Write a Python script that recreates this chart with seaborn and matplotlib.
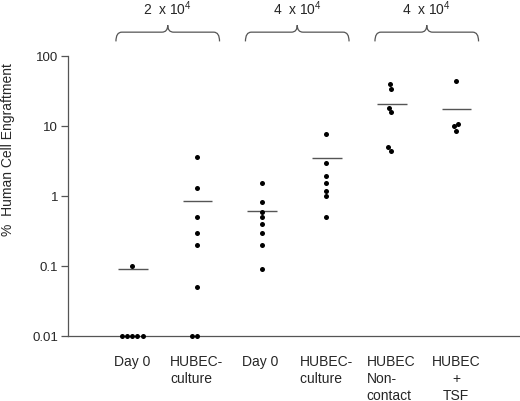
import numpy as np
import pandas as pd
import matplotlib
matplotlib.use("Agg")
import matplotlib.pyplot as plt
import matplotlib.transforms as mtransforms
from matplotlib.path import Path
from matplotlib.patches import PathPatch
import seaborn as sns

# data
groups = ["Day 0", "HUBEC-\nculture", "Day 0 ", "HUBEC-\nculture ",
          "HUBEC\nNon-\ncontact", "HUBEC\n+\nTSF"]
values = [
    [0.1, 0.01, 0.01, 0.01, 0.01, 0.01],
    [3.6, 1.3, 0.5, 0.3, 0.2, 0.05, 0.01, 0.01],
    [1.52, 0.81, 0.60, 0.50, 0.40, 0.30, 0.20, 0.09],
    [7.8, 3.0, 1.9, 1.52, 1.19, 1.0, 0.5],
    [40, 34, 18.2, 15.7, 4.96, 4.35],
    [43.5, 10.8, 9.9, 8.5],
]
means = [0.09, 0.86, 0.62, 3.5, 20.4, 17.5]
dose_labels = [r"2  x 10$^{4}$", r"4  x 10$^{4}$", r"4  x 10$^{4}$"]
yticks = [0.01, 0.1, 1, 10, 100]
ytick_labels = ["0.01", "0.1", "1", "10", "100"]

rows = [(g, v) for g, vals in zip(groups, values) for v in vals]
df = pd.DataFrame(rows, columns=["group", "value"])

sns.set_style("white")
plt.rcParams["font.family"] = ["Liberation Sans", "DejaVu Sans"]
plt.rcParams["mathtext.fontset"] = "custom"
plt.rcParams["mathtext.rm"] = "Liberation Sans"
plt.rcParams["mathtext.it"] = "Liberation Sans"

axis_col = "#555555"

fig = plt.figure(figsize=(5.2, 4.02), dpi=100)
ax = fig.add_axes([0.1308, 0.1617, 0.8692, 0.6966])
ax.set_yscale("log")

sns.swarmplot(data=df, x="group", y="value", order=groups, ax=ax,
              color="black", size=3.6, linewidth=0, clip_on=False)

# mean bars
for i, m in enumerate(means):
    ax.hlines(m, i - 0.22, i + 0.24, color=axis_col, lw=1)

ax.set_xlim(-0.99, 5.99)
ax.set_ylim(0.01, 100)
ax.set_yticks(yticks)
ax.set_yticklabels(ytick_labels)
ax.yaxis.set_minor_locator(matplotlib.ticker.NullLocator())
ax.tick_params(axis="y", length=5, width=0.9, color=axis_col, labelsize=9.5, pad=2,
               left=True)
ax.tick_params(axis="x", length=0, labelsize=10, pad=13)
for lbl in ax.get_xticklabels():
    lbl.set_multialignment("center" if "TSF" in lbl.get_text() else "left")
    lbl.set_linespacing(1.25)

ax.set_xlabel("")
ax.set_ylabel("%  Human Cell Engraftment", fontsize=10)
ax.yaxis.set_label_coords(-0.118, 0.67)

for s in ["top", "right"]:
    ax.spines[s].set_visible(False)
for s in ["left", "bottom"]:
    ax.spines[s].set_color(axis_col)
    ax.spines[s].set_linewidth(0.9)

# curly braces above the groups
trans = mtransforms.blended_transform_factory(ax.transData, ax.transAxes)
y_end, y_line, y_tip = 1.052, 1.085, 1.11
r = 0.09
for k, lab in enumerate(dose_labels):
    c = 2 * k + 0.55
    x0, x1 = c - 0.8, c + 0.8
    verts = [(x0, y_end), (x0, y_line), (x0 + r, y_line),
             (c - r, y_line),
             (c, y_line), (c, y_tip),
             (c, y_line), (c + r, y_line),
             (x1 - r, y_line),
             (x1, y_line), (x1, y_end)]
    codes = [Path.MOVETO, Path.CURVE3, Path.CURVE3,
             Path.LINETO,
             Path.CURVE3, Path.CURVE3,
             Path.CURVE3, Path.CURVE3,
             Path.LINETO,
             Path.CURVE3, Path.CURVE3]
    ax.add_patch(PathPatch(Path(verts, codes), transform=trans, fill=False,
                           edgecolor=axis_col, lw=0.9, clip_on=False))
    ax.text(c, 1.172, lab, transform=trans, ha="center", va="center", fontsize=10)

fig.savefig("out.png", dpi=100)
